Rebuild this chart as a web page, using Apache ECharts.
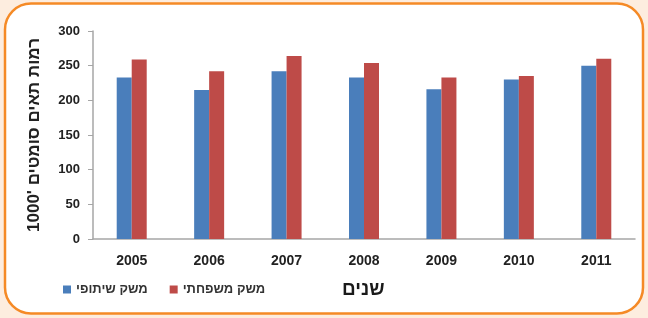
<!DOCTYPE html>
<html>
<head>
<meta charset="utf-8">
<script src="https://cdn.jsdelivr.net/npm/echarts@6/dist/echarts.min.js"></script>
<style>
  html, body { margin: 0; padding: 0; background: #fdeddf; }
  #chart { width: 648px; height: 318px; }
</style>
</head>
<body>
<div id="chart"></div>
<script>
const years = ['2005', '2006', '2007', '2008', '2009', '2010', '2011'];
const cooperative = [233, 215, 242, 233, 216, 230, 250]; // משק שיתופי
const family = [259, 242, 264, 254, 233, 235, 260];      // משק משפחתי
const yTicks = [0, 50, 100, 150, 200, 250, 300];

const chart = echarts.init(document.getElementById('chart'));
const font = 'Liberation Sans, Arial, sans-serif';

chart.setOption({
    animation: false,
    backgroundColor: 'transparent',
    graphic: [{
        type: 'rect',
        z: -10,
        shape: { x: 5, y: 3.5, width: 638, height: 310, r: 26 },
        style: { fill: '#ffffff', stroke: '#f58a26', lineWidth: 2.5 }
    }, {
        type: 'text',
        left: 342,
        top: 280,
        style: { text: 'שנים', font: 'bold 19px ' + font, fill: '#1a1a1a' }
    }],
    grid: { left: 93, right: 13, top: 31, bottom: 79 },
    legend: {
        left: 58,
        top: 278,
        itemWidth: 8,
        itemHeight: 8,
        itemGap: 22,
        icon: 'rect',
        textStyle: { fontFamily: font, fontSize: 13, fontWeight: 'bold', color: '#333' },
        data: ['משק שיתופי', 'משק משפחתי']
    },
    xAxis: {
        type: 'category',
        data: years,
        axisLine: { lineStyle: { color: '#a6a6a6', width: 1.5 } },
        axisTick: { show: false },
        axisLabel: { fontFamily: font, fontSize: 14, fontWeight: 'bold', color: '#222', margin: 15 }
    },
    yAxis: {
        type: 'value',
        min: yTicks[0],
        max: yTicks[yTicks.length - 1],
        interval: 50,
        name: "1000' רמות תאים סומטים",
        nameLocation: 'middle',
        nameGap: 50,
        nameRotate: 90,
        nameTextStyle: { fontFamily: font, fontSize: 17, fontWeight: 'bold', color: '#222' },
        axisLine: { show: true, lineStyle: { color: '#a6a6a6', width: 1.5 } },
        axisTick: { show: true, length: 5, lineStyle: { color: '#a6a6a6' } },
        splitLine: { show: false },
        axisLabel: { fontFamily: font, fontSize: 13, fontWeight: 'bold', color: '#222', margin: 13 }
    },
    series: [{
        name: 'משק שיתופי',
        type: 'bar',
        data: cooperative,
        barWidth: 15,
        barGap: '0%',
        itemStyle: { color: '#4a7ebb' }
    }, {
        name: 'משק משפחתי',
        type: 'bar',
        data: family,
        barWidth: 15,
        itemStyle: { color: '#be4b48' }
    }]
});
</script>
</body>
</html>
